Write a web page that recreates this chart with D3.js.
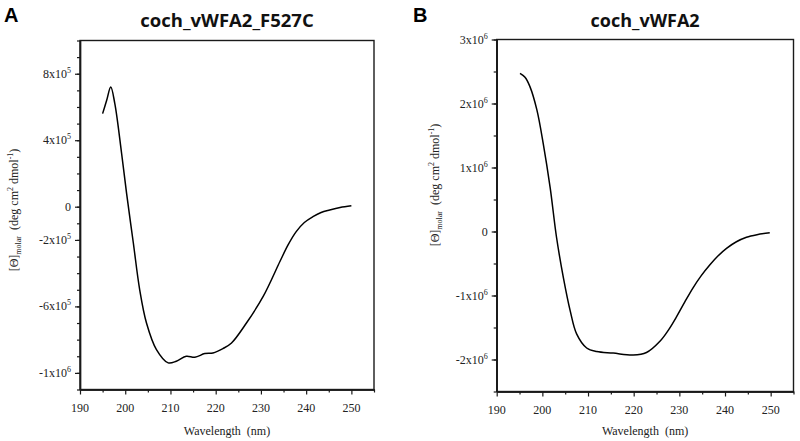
<!DOCTYPE html>
<html>
<head>
<meta charset="utf-8">
<script src="https://cdn.jsdelivr.net/npm/d3@7/dist/d3.min.js"></script>
<style>
  html, body { margin: 0; padding: 0; background: #fff; }
  svg { display: block; }
  .serif { font-family: "Liberation Serif", "DejaVu Serif", "Noto Serif", "Times New Roman", Times, serif; }
</style>
</head>
<body>
<svg id="chart" width="800" height="441"></svg>
<script>
// ---------- DATA ----------
const titleA = "coch_vWFA2_F527C";
const titleB = "coch_vWFA2";

const wavelengthA = [195, 195.9, 196.8, 197.7, 199.2, 200.3, 201.8, 203.2, 204.7, 206.9, 209.5, 211.3, 213.5, 215.4, 217.6, 219.4, 221.6, 223.5, 226.8, 230.5, 234.2, 236.0, 237.8, 239.6, 241.5, 243.3, 245.2, 247.5, 250];
const ellipticityA = [5.6e5, 6.4e5, 7.2e5, 6.2e5, 3.2e5, 0.8e5, -2.2e5, -5.0e5, -7.0e5, -8.6e5, -9.4e5, -9.3e5, -9.0e5, -9.06e5, -8.84e5, -8.8e5, -8.54e5, -8.2e5, -7.0e5, -5.4e5, -3.3e5, -2.3e5, -1.5e5, -0.95e5, -0.6e5, -0.35e5, -0.2e5, -0.05e5, 0.05e5];

const wavelengthB = [195.1, 196.2, 197.3, 198.8, 200.2, 201.7, 203.1, 204.6, 206.1, 207.5, 209.7, 211.9, 215.5, 219.9, 222.8, 225.8, 227.6, 229.4, 231.2, 233.0, 234.8, 236.7, 238.5, 240.4, 242.5, 244.7, 247.0, 249.8];
const ellipticityB = [2.47e6, 2.41e6, 2.26e6, 1.90e6, 1.37e6, 0.69e6, -0.09e6, -0.72e6, -1.24e6, -1.60e6, -1.82e6, -1.876e6, -1.90e6, -1.93e6, -1.89e6, -1.71e6, -1.54e6, -1.33e6, -1.10e6, -0.88e6, -0.69e6, -0.52e6, -0.38e6, -0.26e6, -0.16e6, -0.09e6, -0.05e6, -0.02e6];

const xMajorTicks = [190, 200, 210, 220, 230, 240, 250];
const xMinorTicks = [195, 205, 215, 225, 235, 245, 255];
const xTickLabels = ["190", "200", "210", "220", "230", "240", "250"];

const yMajorTicksA = [8e5, 4e5, 0, -2e5, -6e5, -1e6];
const yTickLabelsA = ["8x10^5", "4x10^5", "0", "-2x10^5", "-6x10^5", "-1x10^6"];
const yMinorTicksA = d3.range(-11, 11).map(i => i * 1e5);

const yMajorTicksB = [3e6, 2e6, 1e6, 0, -1e6, -2e6];
const yTickLabelsB = ["3x10^6", "2x10^6", "1x10^6", "0", "-1x10^6", "-2x10^6"];
const yMinorTicksB = d3.range(-5, 7).map(i => i * 0.5e6);

const xLabel = "Wavelength  (nm)";

// ---------- DRAWING ----------
const svg = d3.select("#chart");
const SANS = "'Open Sans', 'Liberation Sans', sans-serif";

function drawPanel(cfg) {
  const x = d3.scaleLinear().domain([190, 255]).range(cfg.xRange);
  const y = d3.scaleLinear().domain(cfg.yDomain).range(cfg.yRange);
  const g = svg.append("g");

  // frame
  g.append("rect")
    .attr("x", cfg.xRange[0]).attr("y", cfg.yRange[1])
    .attr("width", cfg.xRange[1] - cfg.xRange[0])
    .attr("height", cfg.yRange[0] - cfg.yRange[1])
    .attr("fill", "none").attr("stroke", "#1a1a1a").attr("stroke-width", 1.4);

  // x axis ticks
  const xAxisMinor = d3.axisBottom(x).tickValues(xMinorTicks).tickSize(3).tickSizeOuter(0).tickFormat("");
  const xAxisMajor = d3.axisBottom(x).tickValues(xMajorTicks).tickSize(5).tickSizeOuter(0).tickFormat("");
  [xAxisMinor, xAxisMajor].forEach(ax => {
    const a = g.append("g").attr("transform", `translate(0,${cfg.yRange[0]})`).call(ax);
    a.select(".domain").attr("stroke", "#1a1a1a").attr("stroke-width", 1.4);
    a.selectAll(".tick line").attr("stroke", "#1a1a1a").attr("stroke-width", 1.2);
  });
  g.selectAll(null).data(xMajorTicks).enter().append("text")
    .attr("class", "serif")
    .attr("x", d => x(d)).attr("y", cfg.yRange[0] + 22)
    .attr("text-anchor", "middle")
    .attr("font-size", 12).attr("fill", "#222")
    .text((d, i) => xTickLabels[i]);

  // y axis ticks
  const yAxisMinor = d3.axisLeft(y).tickValues(cfg.yMinor).tickSize(3).tickSizeOuter(0).tickFormat("");
  const yAxisMajor = d3.axisLeft(y).tickValues(cfg.yMajor).tickSize(5).tickSizeOuter(0).tickFormat("");
  [yAxisMinor, yAxisMajor].forEach(ax => {
    const a = g.append("g").attr("transform", `translate(${cfg.xRange[0]},0)`).call(ax);
    a.select(".domain").attr("stroke", "#1a1a1a").attr("stroke-width", 1.4);
    a.selectAll(".tick line").attr("stroke", "#1a1a1a").attr("stroke-width", 1.2);
  });
  cfg.yMajor.forEach((v, i) => {
    const lab = cfg.yLabels[i];
    const t = g.append("text")
      .attr("class", "serif")
      .attr("x", cfg.xRange[0] - 9).attr("y", y(v) + 4)
      .attr("text-anchor", "end")
      .attr("font-size", 12).attr("fill", "#222");
    if (lab.includes("^")) {
      const [m, e] = lab.split("^");
      t.append("tspan").text(m);
      t.append("tspan").attr("font-size", 8).attr("dy", -5).text(e);
    } else {
      t.text(lab);
    }
  });

  // y axis label (rotated)
  const yl = g.append("text")
    .attr("class", "serif")
    .attr("transform", `translate(${cfg.yLabelX},${cfg.yLabelY}) rotate(-90)`)
    .attr("text-anchor", "middle")
    .attr("font-size", 12).attr("fill", "#222")
    .attr("xml:space", "preserve");
  yl.append("tspan").text("[Θ]");
  yl.append("tspan").attr("font-size", 8).attr("dy", 3).text("molar");
  yl.append("tspan").attr("dy", -3).text("  (deg cm");
  yl.append("tspan").attr("font-size", 8).attr("dy", -5).text("2");
  yl.append("tspan").attr("dy", 5).text(" dmol");
  yl.append("tspan").attr("font-size", 8).attr("dy", -5).text("-1");
  yl.append("tspan").attr("dy", 5).text(")");

  // x axis label
  g.append("text")
    .attr("class", "serif")
    .attr("x", (cfg.xRange[0] + cfg.xRange[1]) / 2).attr("y", 435)
    .attr("text-anchor", "middle")
    .attr("font-size", 12).attr("fill", "#222")
    .attr("xml:space", "preserve")
    .text(xLabel);

  // title
  g.append("text")
    .attr("x", (cfg.xRange[0] + cfg.xRange[1]) / 2).attr("y", 27)
    .attr("text-anchor", "middle")
    .attr("font-family", SANS).attr("font-weight", 700).attr("font-size", cfg.titleSize).attr("fill", "#111")
    .text(cfg.title);

  // panel letter
  g.append("text")
    .attr("x", cfg.letterX).attr("y", 22)
    .attr("font-family", "'Liberation Sans', Arial, sans-serif").attr("font-weight", 700)
    .attr("font-size", 20).attr("fill", "#000")
    .text(cfg.letter);

  // curve
  const pts = cfg.wl.map((w, i) => [w, cfg.vals[i]]);
  const line = d3.line().x(d => x(d[0])).y(d => y(d[1])).curve(d3.curveCatmullRom.alpha(0.5));
  g.append("path").datum(pts)
    .attr("d", line)
    .attr("fill", "none").attr("stroke", "#000").attr("stroke-width", 1.5);
}

drawPanel({
  xRange: [80, 374], yRange: [389.5, 40.5], yDomain: [-1.1e6, 1.0e6],
  yMajor: yMajorTicksA, yMinor: yMinorTicksA, yLabels: yTickLabelsA,
  wl: wavelengthA, vals: ellipticityA, title: titleA, titleSize: 18.5,
  letter: "A", letterX: 4, yLabelX: 18, yLabelY: 210
});
drawPanel({
  xRange: [496.7, 793.5], yRange: [391.5, 39.5], yDomain: [-2.5e6, 3.0e6],
  yMajor: yMajorTicksB, yMinor: yMinorTicksB, yLabels: yTickLabelsB,
  wl: wavelengthB, vals: ellipticityB, title: titleB, titleSize: 18,
  letter: "B", letterX: 413, yLabelX: 439, yLabelY: 185
});
</script>
</body>
</html>
